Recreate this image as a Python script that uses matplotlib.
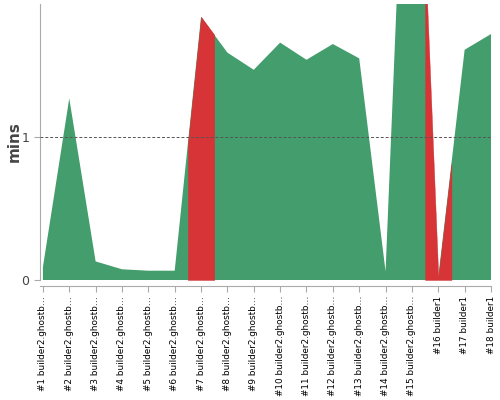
import matplotlib
matplotlib.use("Agg")
import matplotlib.pyplot as plt
import numpy as np

# build durations in minutes, status per build
builds = ["#%d builder2.ghostb\u2026" % i for i in range(1, 16)] + ["#16 builder1", "#17 builder1", "#18 builder1"]
mins = [0.09, 1.27, 0.13, 0.075, 0.065, 0.065, 1.84, 1.59, 1.47, 1.66, 1.54, 1.65, 1.55, 0.06, 4.55, 0.02, 1.61, 1.72]
failed = [False]*6 + [True] + [False]*8 + [True] + [False]*2

green = "#449d6c"
red = "#d63437"

fig = plt.figure(figsize=(5, 4), dpi=100)
ax = fig.add_axes([0.08, 0.30, 0.902, 0.69])

x = np.arange(len(mins))
y = np.array(mins)
ax.fill_between(x, y, color=green, lw=0)

# failed builds: red from half way to the previous build to half way to the next
for i in np.where(failed)[0]:
    xs = [max(i - 0.5, 0), i, min(i + 0.5, len(y) - 1)]
    ys = np.interp(xs, x, y)
    ax.fill_between(xs, ys, facecolor=red, edgecolor=red, lw=0.3)

ax.axhline(1, color="#555555", lw=0.7, ls=(0, (3, 2)), zorder=3)

ax.set_xlim(-0.11, 17)
ax.set_ylim(0, 1.93)
ax.set_yticks([0, 1])
ax.set_xticks(x)
ax.set_xticklabels(builds)
ax.tick_params(axis="y", labelsize=9, colors="#aaaaaa", labelcolor="#444444", length=4)
ax.tick_params(axis="x", colors="#aaaaaa", labelcolor="#000000", length=4,
               labelrotation=90, labelsize=6.4)
for s in ["top", "right"]:
    ax.spines[s].set_visible(False)
ax.spines["left"].set_color("#aaaaaa")
ax.spines["bottom"].set_color("#aaaaaa")
ax.spines["bottom"].set_position(("outward", 4))
ax.set_ylabel("mins", fontsize=11, fontweight="bold", color="#444444", labelpad=0)

fig.savefig("out.png", dpi=100)
